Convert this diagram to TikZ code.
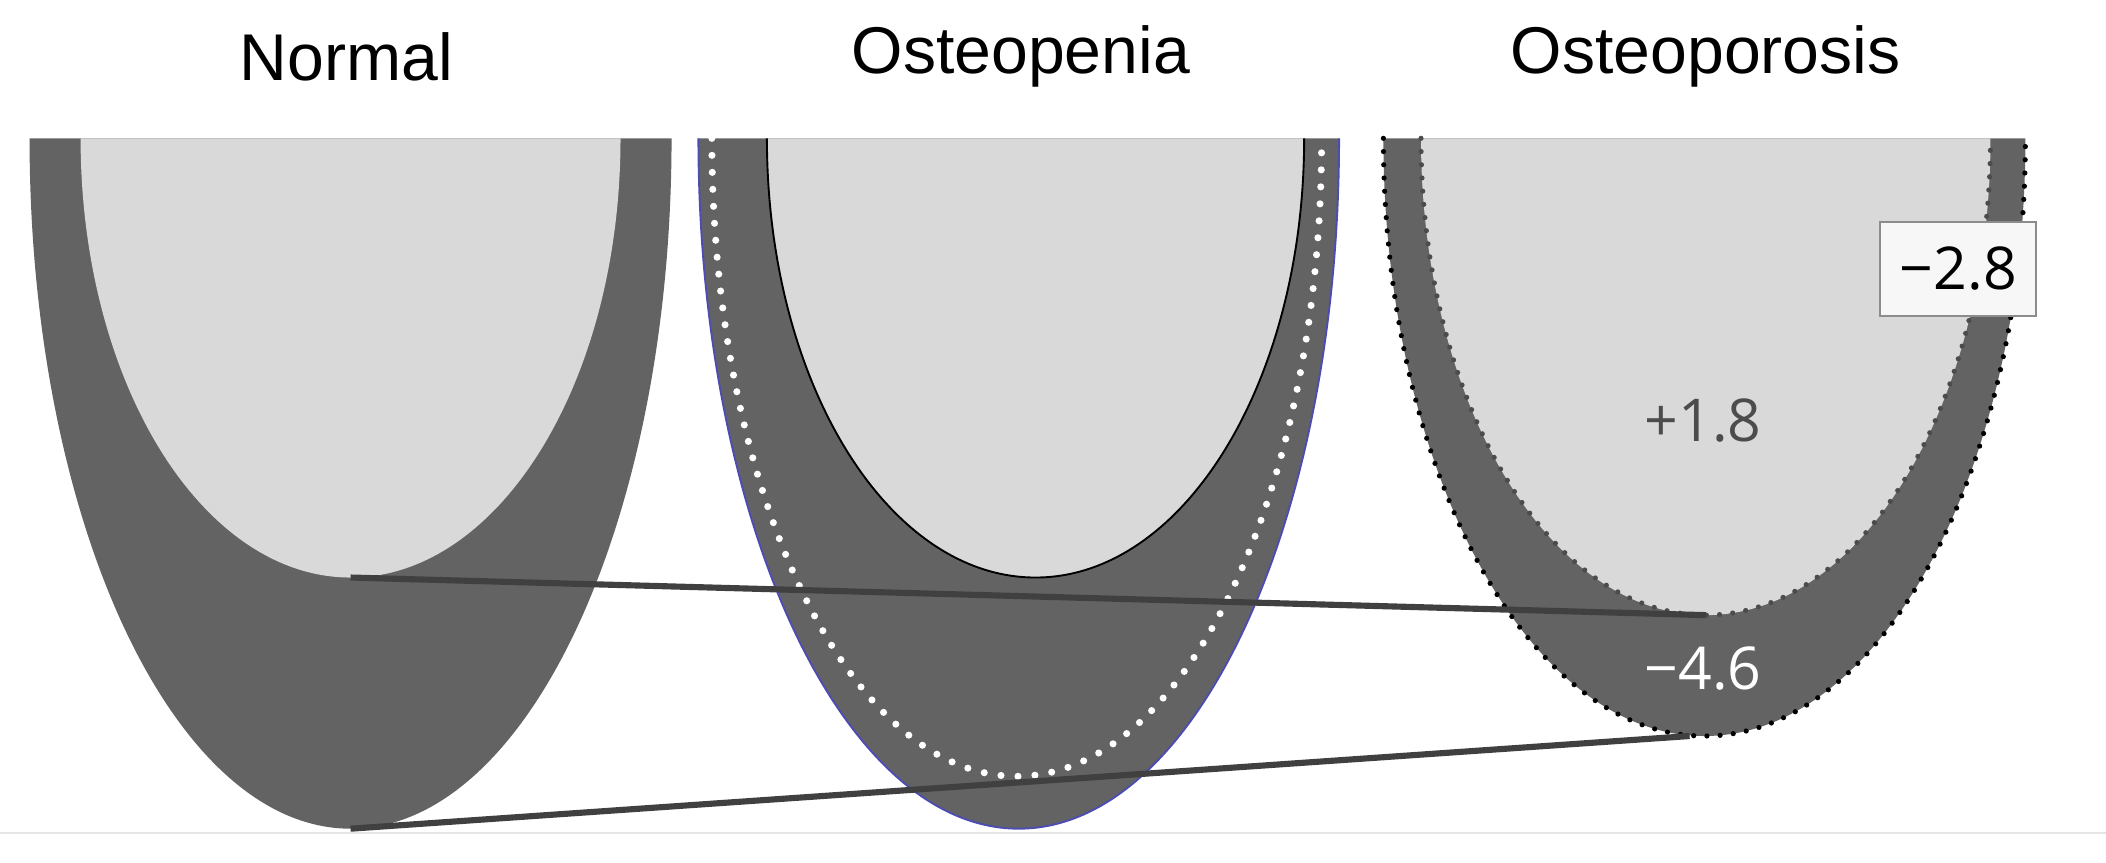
\documentclass[tikz,border=0pt]{standalone}
\usepackage{fontspec}
\setmainfont{Liberation Sans}
\newfontfamily\numf{Open Sans}
\begin{document}
\begin{tikzpicture}[x=0.01cm,y=0.01cm,
  bone/.style={fill=black!61},
  marrow/.style={fill=black!15},
  title/.style={font=\fontsize{14}{16}\selectfont},
  num/.style={font=\numf\fontsize{12.5}{14}\selectfont}]
\useasboundingbox (0,0) rectangle (1568,642);
\draw[black!10] (0,22) -- (1568,22);
% Normal
\fill[bone] (22,539) arc[start angle=180,end angle=360,x radius=239,y radius=514] -- cycle;
\fill[marrow] (60,539) arc[start angle=180,end angle=360,x radius=201,y radius=327] -- cycle;
\coordinate (n1) at (261,212);
\coordinate (n2) at (261,25);
% Osteopenia
\fill[bone,draw=blue!40!gray,thin] (520,539) arc[start angle=180,end angle=360,x radius=238.5,y radius=514];
\draw[white,line width=1.5pt,dash pattern=on 0pt off 3.6pt,line cap=round] (530,539) arc[start angle=180,end angle=360,x radius=227,y radius=475];
\fill[marrow,draw=black,thin] (571,539) arc[start angle=180,end angle=360,x radius=200,y radius=327];
% Osteoporosis
\fill[bone] (1030,539) arc[start angle=180,end angle=360,x radius=239,y radius=445];
\draw[black,line width=1.1pt,dash pattern=on 0pt off 2.8pt,line cap=round] (1030,539) arc[start angle=180,end angle=360,x radius=239,y radius=445];
\fill[marrow] (1058,539) arc[start angle=180,end angle=360,x radius=212,y radius=355];
\draw[black!70,line width=1.1pt,dash pattern=on 0pt off 2.8pt,line cap=round] (1058,539) arc[start angle=180,end angle=360,x radius=212,y radius=355];
\coordinate (p1) at (1270,184);
\coordinate (p2) at (1258,94);
% lines
\draw[black!75,line width=1.3pt] (n1) -- (p1);
\draw[black!75,line width=1.3pt] (n2) -- (p2);
% labels
\node[title] (t1) at (258,600) {Normal};
\node[title] (t2) at (760,600) {Osteopenia};
\node[title] (t3) at (1270,600) {Osteoporosis};
\node[num,text=black!70] (a) at (1268,329) {+1.8};
\node[num,text=white] (b) at (1268,144) {−4.6};
\node[num,fill=black!3,draw=black!45,minimum width=1.16cm,minimum height=0.7cm,inner sep=0pt] (c) at (1458,442) {−2.8};
\end{tikzpicture}
\end{document}
